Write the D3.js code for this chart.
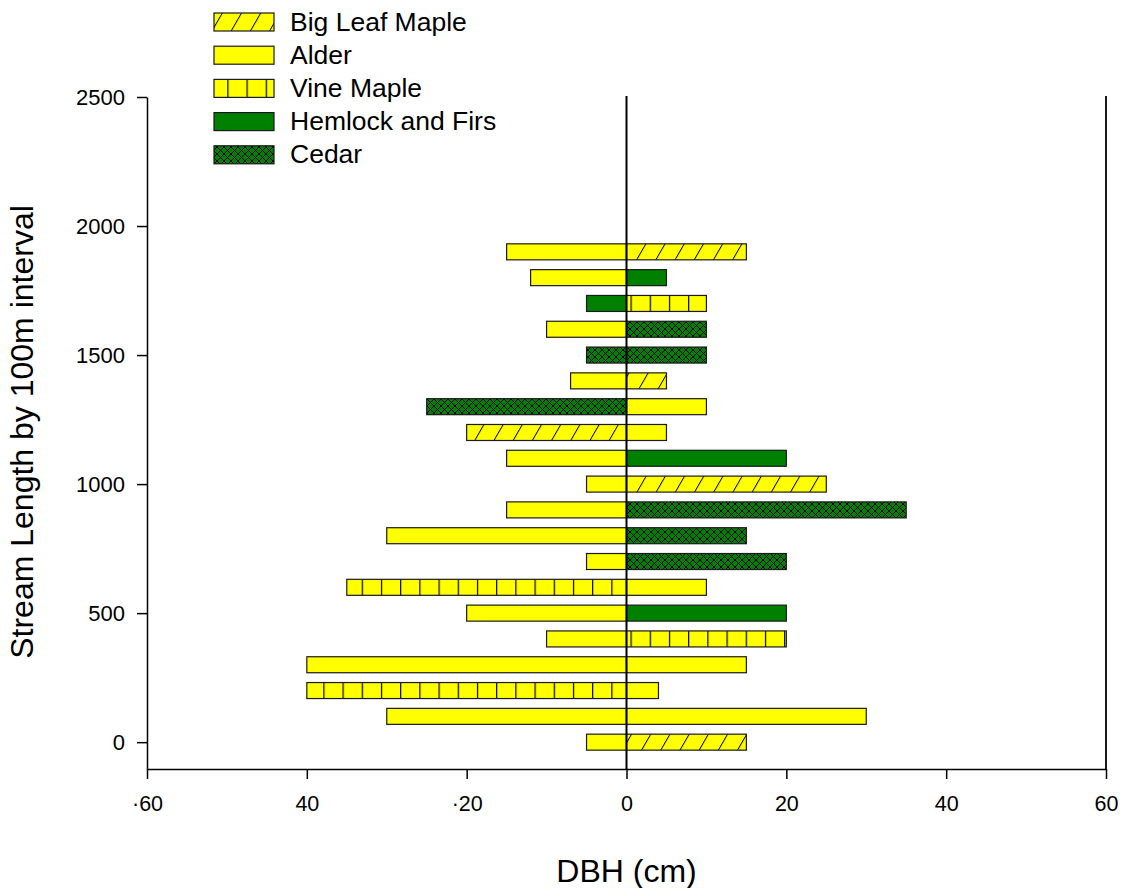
<!DOCTYPE html>
<html><head><meta charset="utf-8">
<script src="https://cdn.jsdelivr.net/npm/d3@7"></script>
<style>body{margin:0;background:#fff}text{font-family:"Liberation Sans",Arial,sans-serif;fill:#000}</style>
</head><body>
<svg id="chart" width="1124" height="888"></svg>
<script>
const positions = [0,100,200,300,400,500,600,700,800,900,1000,1100,1200,1300,1400,1500,1600,1700,1800,1900];
const leftValues = [-5,-30,-40,-40,-10,-20,-35,-5,-30,-15,-5,-15,-20,-25,-7,-5,-10,-5,-12,-15];
const leftSpecies = ["Alder","Alder","Vine Maple","Alder","Alder","Alder","Vine Maple","Alder","Alder","Alder","Alder","Alder","Big Leaf Maple","Cedar","Alder","Cedar","Alder","Hemlock and Firs","Alder","Alder"];
const rightValues = [15,30,4,15,20,20,10,20,15,35,25,20,5,10,5,10,10,10,5,15];
const rightSpecies = ["Big Leaf Maple","Alder","Alder","Alder","Vine Maple","Hemlock and Firs","Alder","Cedar","Cedar","Cedar","Big Leaf Maple","Hemlock and Firs","Alder","Alder","Big Leaf Maple","Cedar","Cedar","Vine Maple","Hemlock and Firs","Big Leaf Maple"];
const legendNames = ["Big Leaf Maple","Alder","Vine Maple","Hemlock and Firs","Cedar"];
const xTicks = [-60,-40,-20,0,20,40,60];
const xTickLabels = ["·60","40","·20","0","20","40","60"];
const yTicks = [0,500,1000,1500,2000,2500];

const svg = d3.select("#chart");
const x = d3.scaleLinear().domain([-60,60]).range([147,1106]);
const y = d3.scaleLinear().domain([-104,2500]).range([769,97]);
const barH = y(0) - y(62);

const defs = svg.append("defs");
const pBL = defs.append("pattern").attr("id","p-blm").attr("patternUnits","userSpaceOnUse")
  .attr("width",19.2).attr("height",40).attr("x",x(0)+6).attr("patternTransform","skewX(-30)");
pBL.append("rect").attr("width",19.2).attr("height",40).attr("fill","#ffff00");
pBL.append("line").attr("x1",0.5).attr("x2",0.5).attr("y1",0).attr("y2",40).attr("stroke","#000").attr("stroke-width",1.2);
const pVM = defs.append("pattern").attr("id","p-vm").attr("patternUnits","userSpaceOnUse")
  .attr("width",19.2).attr("height",10).attr("x",x(0)+4);
pVM.append("rect").attr("width",19.2).attr("height",10).attr("fill","#ffff00");
pVM.append("line").attr("x1",0.5).attr("x2",0.5).attr("y1",0).attr("y2",10).attr("stroke","#000").attr("stroke-width",1.4);
const cp = 7;
const pC = defs.append("pattern").attr("id","p-cedar").attr("patternUnits","userSpaceOnUse")
  .attr("width",cp).attr("height",cp);
pC.append("rect").attr("width",cp).attr("height",cp).attr("fill","#008000");
pC.append("path").attr("d",`M0,0L${cp},${cp}M${cp},0L0,${cp}`).attr("stroke","#000").attr("stroke-width",1);

const fillFor = {"Big Leaf Maple":"url(#p-blm)","Alder":"#ffff00","Vine Maple":"url(#p-vm)","Hemlock and Firs":"#008000","Cedar":"url(#p-cedar)"};

const bars = [];
positions.forEach((p,i)=>{
  bars.push({pos:p, v:leftValues[i], s:leftSpecies[i]});
  bars.push({pos:p, v:rightValues[i], s:rightSpecies[i]});
});
svg.append("g").selectAll("rect").data(bars).join("rect")
  .attr("x",d=>Math.min(x(0),x(d.v)))
  .attr("width",d=>Math.abs(x(d.v)-x(0)))
  .attr("y",d=>y(d.pos)-barH/2)
  .attr("height",barH)
  .attr("fill",d=>fillFor[d.s])
  .attr("stroke","#1a1a1a").attr("stroke-width",1.2);

const xAxis = d3.axisBottom(x).tickValues(xTicks).tickFormat((d,i)=>xTickLabels[i]).tickSize(10).tickSizeOuter(0).tickPadding(17);
const gx = svg.append("g").attr("transform","translate(0,769)").call(xAxis);
gx.selectAll("text").style("font-size","21.5px").style("font-family","Liberation Sans, Arial, sans-serif");
gx.selectAll("line,path").attr("stroke","#000").attr("stroke-width",1.5);

const yAxis = d3.axisLeft(y).tickValues(yTicks).tickFormat(d3.format("d")).tickSize(10).tickSizeOuter(0).tickPadding(12);
const gy = svg.append("g").attr("transform","translate(147,0)").call(yAxis);
gy.selectAll("text").style("font-size","22px").style("font-family","Liberation Sans, Arial, sans-serif");
gy.selectAll("line,path").attr("stroke","#000").attr("stroke-width",1.5);

svg.append("line").attr("x1",x(60)).attr("x2",x(60)).attr("y1",y(2500)-1).attr("y2",769).attr("stroke","#000").attr("stroke-width",1.8);
svg.append("line").attr("x1",x(0)).attr("x2",x(0)).attr("y1",y(2500)-1).attr("y2",769).attr("stroke","#000").attr("stroke-width",2);

svg.append("text").attr("x",x(0)).attr("y",882).attr("text-anchor","middle").style("font-size","32px").text("DBH (cm)");
svg.append("text").attr("transform","translate(33,432) rotate(-90)").attr("text-anchor","middle").style("font-size","32px").text("Stream Length by 100m interval");

const lg = svg.append("g");
legendNames.forEach((n,i)=>{
  const cy = 22 + i*33.2;
  lg.append("rect").attr("x",214).attr("y",cy-9).attr("width",60).attr("height",18)
    .attr("fill",fillFor[n]).attr("stroke","#1a1a1a").attr("stroke-width",1.2);
  lg.append("text").attr("x",290).attr("y",cy+8.5).style("font-size","26.5px").text(n);
});
</script>
</body></html>
